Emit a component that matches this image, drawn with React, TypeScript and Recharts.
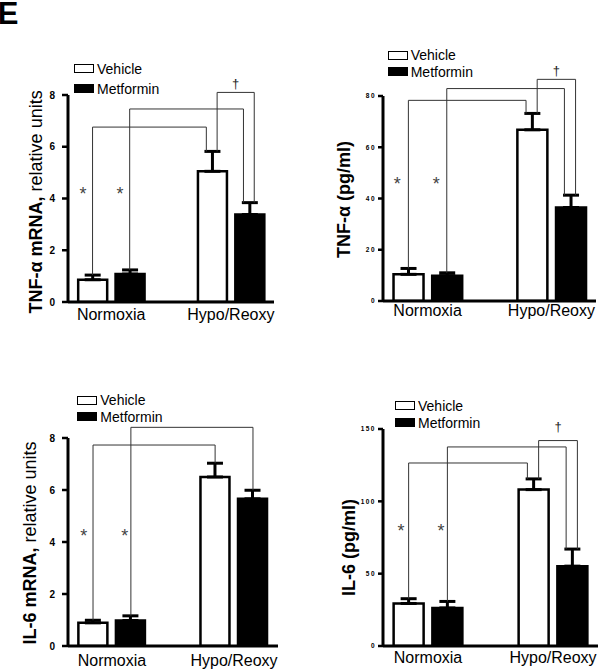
import { Bar, BarChart, ErrorBar, Label, ReferenceDot, ReferenceLine, XAxis, YAxis } from "recharts";

const FONT = "'Liberation Sans', Arial, Helvetica, sans-serif";

const groups = ["Normoxia", "Hypo/Reoxy"];
const groupPos = [1, 3];

// TNF-α mRNA, relative units
const tnfMrnaVehicle = [0.86, 5.05];
const tnfMrnaVehicleSem = [0.18, 0.77];
const tnfMrnaMetformin = [1.08, 3.38];
const tnfMrnaMetforminSem = [0.16, 0.46];
const tnfMrnaTicks = [0, 2, 4, 6, 8];
const tnfMrnaBracketLevels = [6.76, 7.46, 8.1];

// TNF-α (pg/ml)
const tnfProtVehicle = [10.4, 66.8];
const tnfProtVehicleSem = [2.3, 6.4];
const tnfProtMetformin = [9.9, 36.5];
const tnfProtMetforminSem = [1.1, 4.8];
const tnfProtTicks = [0, 20, 40, 60, 80];
const tnfProtBracketLevels = [78.3, 82.9, 86.5];

// IL-6 mRNA, relative units
const il6MrnaVehicle = [0.89, 6.5];
const il6MrnaVehicleSem = [0.1, 0.53];
const il6MrnaMetformin = [0.98, 5.66];
const il6MrnaMetforminSem = [0.18, 0.33];
const il6MrnaTicks = [0, 2, 4, 6, 8];
const il6MrnaBracketLevels = [7.73, 8.41];

// IL-6 (pg/ml)
const il6ProtVehicle = [29.4, 108.1];
const il6ProtVehicleSem = [3.3, 7.4];
const il6ProtMetformin = [26.3, 55.2];
const il6ProtMetforminSem = [4.5, 11.8];
const il6ProtTicks = [0, 50, 100, 150];
const il6ProtBracketLevels = [126.5, 137.6, 142.0];

// bar layout inside each group band (band = 2 x-units)
const X_DOMAIN = [0.28, 3.72];
const CAT_GAP = 0.225;
const BAR_GAP = 0.07;
const SHIFT = (BAR_GAP / 2 + (1 - 2 * CAT_GAP - BAR_GAP) / 4) * 2;

type PanelCfg = {
  key: string;
  left: number;
  top: number;
  width: number;
  height: number;
  margin: { top: number; right: number; left: number; bottom: number };
  yWidth: number;
  xHeight: number;
  xTickGap: number;
  vehicle: number[];
  vehicleSem: number[];
  metformin: number[];
  metforminSem: number[];
  ticks: number[];
  levels: number[];
  starY: number;
  starDx: number[];
  daggerGap: number;
  title: string;
  titleRest: string;
  titleDx: number;
  titleDy: number;
  tickFont: number;
  tickSpacing: number;
  tickSize: number;
  tickMargin: number;
  legendX: number;
  legendY: number;
  legendGap: number;
};

const panels: PanelCfg[] = [
  {
    key: "tnfMrna", left: 0, top: 0, width: 300, height: 330,
    margin: { top: 95, right: 26, left: 0, bottom: 0 }, yWidth: 68, xHeight: 28, xTickGap: 6.3,
    vehicle: tnfMrnaVehicle, vehicleSem: tnfMrnaVehicleSem, metformin: tnfMrnaMetformin, metforminSem: tnfMrnaMetforminSem,
    ticks: tnfMrnaTicks, levels: tnfMrnaBracketLevels, starY: 4.33, starDx: [-0.16, -0.16], daggerGap: 4.5,
    title: "TNF-\u03b1 mRNA,", titleRest: " relative units", titleDx: 42, titleDy: 3.4,
    tickFont: 10, tickSpacing: 0, tickSize: 6, tickMargin: 7,
    legendX: 74, legendY: 68.8, legendGap: 20.2,
  },
  {
    key: "tnfProt", left: 300, top: 0, width: 300, height: 330,
    margin: { top: 96, right: 4, left: 0, bottom: 0 }, yWidth: 83, xHeight: 29, xTickGap: 4,
    vehicle: tnfProtVehicle, vehicleSem: tnfProtVehicleSem, metformin: tnfProtMetformin, metforminSem: tnfProtMetforminSem,
    ticks: tnfProtTicks, levels: tnfProtBracketLevels, starY: 47.1, starDx: [-0.18, -0.17], daggerGap: 4,
    title: "TNF-\u03b1 (pg/ml)", titleRest: "", titleDx: 50, titleDy: 1,
    tickFont: 6.5, tickSpacing: 1.5, tickSize: 5, tickMargin: 2,
    legendX: 387.7, legendY: 55, legendGap: 16.5,
  },
  {
    key: "il6Mrna", left: 0, top: 330, width: 300, height: 339,
    margin: { top: 108, right: 22, left: 0, bottom: 0 }, yWidth: 68, xHeight: 23, xTickGap: 9,
    vehicle: il6MrnaVehicle, vehicleSem: il6MrnaVehicleSem, metformin: il6MrnaMetformin, metforminSem: il6MrnaMetforminSem,
    ticks: il6MrnaTicks, levels: il6MrnaBracketLevels, starY: 4.4, starDx: [-0.15, -0.1], daggerGap: 4.5,
    title: "IL-6 mRNA,", titleRest: " relative units", titleDx: 36, titleDy: 1,
    tickFont: 10, tickSpacing: 0, tickSize: 6, tickMargin: 7,
    legendX: 77.3, legendY: 400, legendGap: 16.7,
  },
  {
    key: "il6Prot", left: 300, top: 330, width: 300, height: 339,
    margin: { top: 99, right: 2, left: 0, bottom: 0 }, yWidth: 83, xHeight: 23, xTickGap: 5.7,
    vehicle: il6ProtVehicle, vehicleSem: il6ProtVehicleSem, metformin: il6ProtMetformin, metforminSem: il6ProtMetforminSem,
    ticks: il6ProtTicks, levels: il6ProtBracketLevels, starY: 82.6, starDx: [-0.12, -0.1], daggerGap: 10,
    title: "IL-6 (pg/ml)", titleRest: "", titleDx: 55, titleDy: 10,
    tickFont: 6.5, tickSpacing: 1.5, tickSize: 5, tickMargin: 2,
    legendX: 395, legendY: 405.8, legendGap: 17.2,
  },
];

const series = [
  { name: "Vehicle", fill: "#fff" },
  { name: "Metformin", fill: "#000" },
];

function LegendBlock({ x, y, gap }: { x: number; y: number; gap: number }) {
  return (
    <div style={{ position: "absolute", left: x, top: y - 9, fontFamily: FONT, fontSize: 14, color: "#000" }}>
      {series.map((s, i) => (
        <div
          key={s.name}
          style={{ position: "absolute", left: 0, top: i * gap, height: 18, display: "flex", alignItems: "center", whiteSpace: "nowrap" }}
        >
          <span style={{ display: "inline-block", width: 20, height: 9, boxSizing: "border-box", border: "1.5px solid #000", background: s.fill, marginRight: 3 }} />
          <span>{s.name}</span>
        </div>
      ))}
    </div>
  );
}

const lineStyle = { stroke: "#333", strokeWidth: 1, ifOverflow: "visible" as const };

function Panel({ cfg }: { cfg: PanelCfg }) {
  const rows = groups.map((g, i) => ({
    pos: groupPos[i],
    group: g,
    vehicle: cfg.vehicle[i],
    metformin: cfg.metformin[i],
    vehicleErr: [0, cfg.vehicleSem[i]],
    metforminErr: [0, cfg.metforminSem[i]],
  }));
  const vTop = (i: number) => cfg.vehicle[i] + cfg.vehicleSem[i];
  const mTop = (i: number) => cfg.metformin[i] + cfg.metforminSem[i];
  const vx = (i: number) => groupPos[i] - SHIFT;
  const mx = (i: number) => groupPos[i] + SHIFT;
  const dagger = cfg.levels.length > 2;
  const offL = dagger ? -0.1 : 0;
  const offR = dagger ? 0.08 : 0;

  const brackets = [
    { x1: vx(0), y1: vTop(0), x2: vx(1) + offL, y2: vTop(1), level: cfg.levels[0] },
    { x1: mx(0), y1: mTop(0), x2: mx(1) + offL, y2: mTop(1), level: cfg.levels[1] },
  ];
  if (dagger) brackets.push({ x1: vx(1) + offR, y1: vTop(1), x2: mx(1) + offR, y2: mTop(1), level: cfg.levels[2] });

  const yMax = cfg.ticks[cfg.ticks.length - 1];

  const renderTitle = (props: any) => {
    const vb = props.viewBox || { x: 0, y: cfg.margin.top, height: cfg.height - cfg.margin.top - cfg.xHeight };
    const x = vb.x + cfg.titleDx;
    const y = vb.y + vb.height / 2 + cfg.titleDy;
    return (
      <text x={x} y={y} transform={`rotate(-90 ${x} ${y})`} textAnchor="middle" fontFamily={FONT} fontSize={18} fill="#000">
        <tspan fontWeight={700}>{cfg.title}</tspan>
        {cfg.titleRest ? <tspan fontWeight={400}>{cfg.titleRest}</tspan> : null}
      </text>
    );
  };

  const star = (p: any) => (
    <text x={p.cx} y={p.cy + 10} textAnchor="middle" fontFamily={FONT} fontSize={18} fill="#444">*</text>
  );
  const daggerMark = (p: any) => (
    <text x={p.cx} y={p.cy - cfg.daggerGap} textAnchor="middle" fontFamily={FONT} fontSize={13} fill="#222" stroke="none">{"\u2020"}</text>
  );

  return (
    <div style={{ position: "absolute", left: cfg.left, top: cfg.top }}>
      <BarChart
        width={cfg.width}
        height={cfg.height}
        data={rows}
        margin={cfg.margin}
        barCategoryGap={`${CAT_GAP * 100}%`}
        barGap={`${BAR_GAP * 100}%`}
      >
        <XAxis
          type="number"
          dataKey="pos"
          domain={X_DOMAIN}
          allowDataOverflow
          ticks={groupPos}
          interval={0}
          height={cfg.xHeight}
          tickLine={false}
          tickSize={0}
          tickMargin={cfg.xTickGap}
          tickFormatter={(v: number) => groups[groupPos.indexOf(v)]}
          axisLine={{ stroke: "#000", strokeWidth: 3 }}
          tick={{ fontSize: 16, fill: "#000", fontFamily: FONT }}
        />
        <YAxis
          type="number"
          domain={[0, yMax]}
          allowDataOverflow
          ticks={cfg.ticks}
          interval={0}
          width={cfg.yWidth}
          tickSize={cfg.tickSize}
          tickMargin={cfg.tickMargin}
          axisLine={{ stroke: "#000", strokeWidth: 3 }}
          tickLine={{ stroke: "#000", strokeWidth: 2.5 }}
          tick={{ fontSize: cfg.tickFont, fontWeight: 700, fill: "#000", fontFamily: FONT, letterSpacing: cfg.tickSpacing }}
        >
          <Label content={renderTitle} />
        </YAxis>
        <Bar dataKey="vehicle" fill="#fff" stroke="#000" strokeWidth={2.5} isAnimationActive={false}>
          <ErrorBar dataKey="vehicleErr" direction="y" width={8} stroke="#000" strokeWidth={3} isAnimationActive={false} />
        </Bar>
        <Bar dataKey="metformin" fill="#000" stroke="#000" strokeWidth={2.5} isAnimationActive={false}>
          <ErrorBar dataKey="metforminErr" direction="y" width={8} stroke="#000" strokeWidth={3} isAnimationActive={false} />
        </Bar>
        {brackets.flatMap((b, k) => [
          <ReferenceLine key={`l${k}`} segment={[{ x: b.x1, y: b.y1 }, { x: b.x1, y: b.level }]} {...lineStyle} />,
          <ReferenceLine key={`h${k}`} segment={[{ x: b.x1, y: b.level }, { x: b.x2, y: b.level }]} {...lineStyle} />,
          <ReferenceLine key={`r${k}`} segment={[{ x: b.x2, y: b.level }, { x: b.x2, y: b.y2 }]} {...lineStyle} />,
        ])}
        <ReferenceDot x={vx(0) + cfg.starDx[0]} y={cfg.starY} r={0} ifOverflow="visible" shape={star} />
        <ReferenceDot x={mx(0) + cfg.starDx[1]} y={cfg.starY} r={0} ifOverflow="visible" shape={star} />
        {dagger ? (
          <ReferenceDot x={(brackets[2].x1 + brackets[2].x2) / 2} y={cfg.levels[2]} r={0} ifOverflow="visible" shape={daggerMark} />
        ) : null}
      </BarChart>
    </div>
  );
}

export default function App() {
  return (
    <div style={{ position: "absolute", left: 0, top: 0, width: 600, height: 669, background: "#fff", overflow: "hidden", fontFamily: FONT }}>
      <svg width={40} height={40} style={{ position: "absolute", left: 0, top: 0 }}>
        <text x={-2.3} y={24} fontFamily={FONT} fontSize={31} fontWeight={700} fill="#000">E</text>
      </svg>
      {panels.map((p) => (
        <Panel key={p.key} cfg={p} />
      ))}
      {panels.map((p) => (
        <LegendBlock key={`lg-${p.key}`} x={p.legendX} y={p.legendY} gap={p.legendGap} />
      ))}
    </div>
  );
}
